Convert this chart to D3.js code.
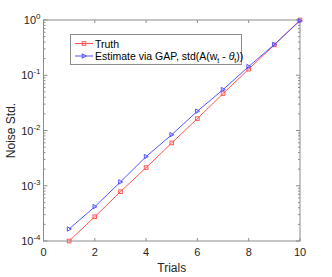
<!DOCTYPE html>
<html>
<head>
<meta charset="utf-8">
<script src="https://cdn.jsdelivr.net/npm/d3@7"></script>
<style>
body { margin: 0; background: #fff; }
text { font-family: "Liberation Sans", Arial, sans-serif; }
</style>
</head>
<body>
<svg id="chart" width="332" height="277"></svg>
<script>
var trials = [1, 2, 3, 4, 5, 6, 7, 8, 9, 10];
var truth = [1.0e-4, 2.75e-4, 7.8e-4, 2.13e-3, 5.96e-3, 0.0164, 0.0466, 0.129, 0.355, 1.0];
var estimate = [1.65e-4, 4.18e-4, 1.17e-3, 3.37e-3, 8.4e-3, 0.0224, 0.055, 0.144, 0.36, 0.97];
var xTicks = [0, 2, 4, 6, 8, 10];
var yExps = [-4, -3, -2, -1, 0];

var margin = { top: 20, right: 32, bottom: 36, left: 43.5 };
var svg = d3.select("#chart");
var width = 332 - margin.left - margin.right;
var height = 277 - margin.top - margin.bottom;

var x = d3.scaleLinear().domain([0, 10]).range([margin.left, margin.left + width]);
var y = d3.scaleLog().domain([1e-4, 1]).range([margin.top + height, margin.top]);

var axisColor = "#8c8c8c";

// minor ticks on log axis
var minor = [];
yExps.slice(0, -1).forEach(function (e) {
  for (var k = 2; k < 10; k++) minor.push(k * Math.pow(10, e));
});

var g = svg.append("g");

// box
g.append("rect")
  .attr("x", x(0)).attr("y", y(1))
  .attr("width", x(10) - x(0)).attr("height", y(1e-4) - y(1))
  .attr("fill", "none").attr("stroke", axisColor).attr("stroke-width", 1);

// x ticks (inward, bottom and top)
xTicks.forEach(function (t) {
  g.append("line").attr("x1", x(t)).attr("x2", x(t))
    .attr("y1", y(1e-4)).attr("y2", y(1e-4) - 3).attr("stroke", axisColor);
  g.append("line").attr("x1", x(t)).attr("x2", x(t))
    .attr("y1", y(1)).attr("y2", y(1) + 3).attr("stroke", axisColor);
  g.append("text").attr("x", x(t)).attr("y", y(1e-4) + 15)
    .attr("text-anchor", "middle").attr("font-size", 11).attr("fill", "#262626")
    .text(t);
});

// y major ticks
yExps.forEach(function (e) {
  var v = Math.pow(10, e);
  g.append("line").attr("x1", x(0)).attr("x2", x(0) + 4)
    .attr("y1", y(v)).attr("y2", y(v)).attr("stroke", axisColor);
  g.append("line").attr("x1", x(10)).attr("x2", x(10) - 4)
    .attr("y1", y(v)).attr("y2", y(v)).attr("stroke", axisColor);
  var lab = g.append("text").attr("x", x(0) - 3).attr("y", y(v) + 4)
    .attr("text-anchor", "end").attr("font-size", 11).attr("fill", "#262626");
  lab.append("tspan").text("10");
  lab.append("tspan").attr("dy", -5).attr("font-size", 8).text(e === 0 ? "0" : "-" + (-e));
});

// y minor ticks
minor.forEach(function (v) {
  g.append("line").attr("x1", x(0)).attr("x2", x(0) + 2)
    .attr("y1", y(v)).attr("y2", y(v)).attr("stroke", axisColor);
  g.append("line").attr("x1", x(10)).attr("x2", x(10) - 2)
    .attr("y1", y(v)).attr("y2", y(v)).attr("stroke", axisColor);
});

// axis labels
g.append("text").attr("x", x(5)).attr("y", 272)
  .attr("text-anchor", "middle").attr("font-size", 12).attr("fill", "#262626")
  .text("Trials");
g.append("text")
  .attr("transform", "translate(15," + (margin.top + height / 2) + ") rotate(-90)")
  .attr("text-anchor", "middle").attr("font-size", 12).attr("fill", "#262626")
  .text("Noise Std.");

var red = "#ff5555";
var blue = "#5555ff";

var line = d3.line().x(function (d) { return x(d[0]); }).y(function (d) { return y(d[1]); });

function drawSeries(vals, color, marker) {
  var pts = trials.map(function (t, i) { return [t, vals[i]]; });
  g.append("path").datum(pts).attr("d", line)
    .attr("fill", "none").attr("stroke", color).attr("stroke-width", 1);
  pts.forEach(function (p) { marker(x(p[0]), y(p[1]), color); });
}

function square(cx, cy, color) {
  g.append("rect").attr("x", cx - 1.8).attr("y", cy - 1.8).attr("width", 3.6).attr("height", 3.6)
    .attr("fill", "none").attr("stroke", color).attr("stroke-width", 1);
}
function triangle(cx, cy, color) {
  g.append("path").attr("d", "M" + (cx - 1.8) + "," + (cy - 2.2) + "L" + (cx + 2.2) + "," + cy + "L" + (cx - 1.8) + "," + (cy + 2.2) + "Z")
    .attr("fill", "none").attr("stroke", color).attr("stroke-width", 1);
}

drawSeries(truth, red, square);
drawSeries(estimate, blue, triangle);

// legend
var lg = g.append("g");
lg.append("rect").attr("x", 70.5).attr("y", 34.5).attr("width", 171).attr("height", 30)
  .attr("fill", "#fff").attr("stroke", "#8c8c8c");
lg.append("line").attr("x1", 75).attr("x2", 93).attr("y1", 43.5).attr("y2", 43.5).attr("stroke", red);
square(84, 43.5, red);
lg.append("line").attr("x1", 75).attr("x2", 93).attr("y1", 56).attr("y2", 56).attr("stroke", blue);
triangle(84, 56, blue);
lg.append("text").attr("x", 95).attr("y", 47.5).attr("font-size", 10.5).attr("fill", "#000").text("Truth");
var t2 = lg.append("text").attr("x", 95).attr("y", 60).attr("font-size", 10.5).attr("fill", "#000");
t2.append("tspan").text("Estimate via GAP, std(A(w");
t2.append("tspan").attr("dy", 3).attr("font-size", 7).text("t");
t2.append("tspan").attr("dy", -3).text(" - ");
t2.append("tspan").attr("font-style", "italic").text("\u03b8");
t2.append("tspan").attr("dy", 3).attr("font-size", 7).text("t");
t2.append("tspan").attr("dy", -3).text("))");
</script>
</body>
</html>
